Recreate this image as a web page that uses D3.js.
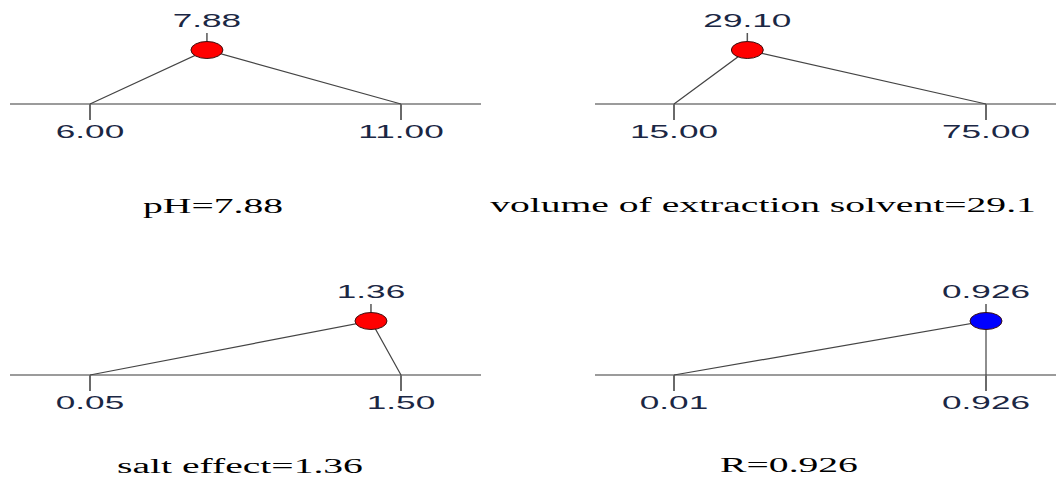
<!DOCTYPE html>
<html>
<head>
<meta charset="utf-8">
<script src="https://cdn.jsdelivr.net/npm/d3@7/dist/d3.min.js"></script>
<style>
  html, body { margin: 0; padding: 0; background: #ffffff; }
  svg { display: block; }
</style>
</head>
<body>
<svg id="chart" width="1056" height="480"></svg>
<script>
// Optimisation ramps: factor settings and predicted response
const names     = ["pH", "volume of extraction solvent", "salt effect", "R"];
const lows      = [6.00, 15.00, 0.05, 0.01];
const highs     = [11.00, 75.00, 1.50, 0.926];
const optimum   = [7.88, 29.10, 1.36, 0.926];
const lowLabels  = ["6.00", "15.00", "0.05", "0.01"];
const highLabels = ["11.00", "75.00", "1.50", "0.926"];
const optLabels  = ["7.88", "29.10", "1.36", "0.926"];
const kinds     = ["factor", "factor", "factor", "response"];

// Panel placement (2 x 2 grid)
const cols = [{ lo: 90, hi: 401, left: 10, right: 481 },
              { lo: 674, hi: 986, left: 595, right: 1066 }];
const rows = [104, 375];
const titlePos = [{ x: 213, dy: 109 }, { x: 763, dy: 108 },
                  { x: 240, dy: 98 },  { x: 789, dy: 97 }];
const rampHeight = 54;

const svg = d3.select("#chart");
const dotFill = { factor: "#ff0000", response: "#0000ff" };

function stretchedText(g, x, y, str, opts) {
  g.append("text")
    .attr("transform", `translate(${x},${y}) scale(${opts.sx},1)`)
    .attr("text-anchor", "middle")
    .attr("font-family", opts.family)
    .attr("font-size", opts.size)
    .attr("fill", opts.fill)
    .text(str);
}

const tickFont  = { family: "'Liberation Sans', Arial, sans-serif", size: 19, sx: 1.85, fill: "#1b2744" };
const titleFont = { family: "'Liberation Serif', 'Times New Roman', serif", size: 20, sx: 1.98, fill: "#000000" };

names.forEach((name, i) => {
  const col = cols[i % 2];
  const base = rows[Math.floor(i / 2)];
  const g = svg.append("g");

  const x = d3.scaleLinear().domain([lows[i], highs[i]]).range([col.lo, col.hi]);
  const y = d3.scaleLinear().domain([0, 1]).range([base, base - rampHeight]);

  // baseline
  g.append("line")
    .attr("x1", col.left).attr("x2", col.right)
    .attr("y1", y(0)).attr("y2", y(0))
    .attr("stroke", "#7a7a7a").attr("stroke-width", 1.4);

  // end ticks with their labels
  [[lows[i], lowLabels[i]], [highs[i], highLabels[i]]].forEach(([v, label]) => {
    g.append("line")
      .attr("x1", x(v)).attr("x2", x(v))
      .attr("y1", y(0)).attr("y2", y(0) + 16)
      .attr("stroke", "#6a6a6a").attr("stroke-width", 2);
    stretchedText(g, x(v), y(0) + 34, label, tickFont);
  });

  // ramp through the optimum
  const peak = [x(optimum[i]), y(1)];
  const ramp = d3.line();
  g.append("path")
    .attr("d", ramp([[x(lows[i]), y(0)], peak, [x(highs[i]), y(0)]]))
    .attr("fill", "none")
    .attr("stroke", "#444444")
    .attr("stroke-width", 1.2);

  // marker tick above the optimum
  g.append("line")
    .attr("x1", peak[0]).attr("x2", peak[0])
    .attr("y1", peak[1] - 17).attr("y2", peak[1])
    .attr("stroke", "#555555").attr("stroke-width", 1.5);

  g.append("ellipse")
    .attr("cx", peak[0]).attr("cy", peak[1])
    .attr("rx", 16).attr("ry", 8.5)
    .attr("fill", dotFill[kinds[i]])
    .attr("stroke", "#3a1010").attr("stroke-width", 1);

  stretchedText(g, peak[0], peak[1] - 23, optLabels[i], tickFont);

  // caption
  stretchedText(g, titlePos[i].x, base + titlePos[i].dy, `${name}=${optimum[i]}`, titleFont);
});
</script>
</body>
</html>
